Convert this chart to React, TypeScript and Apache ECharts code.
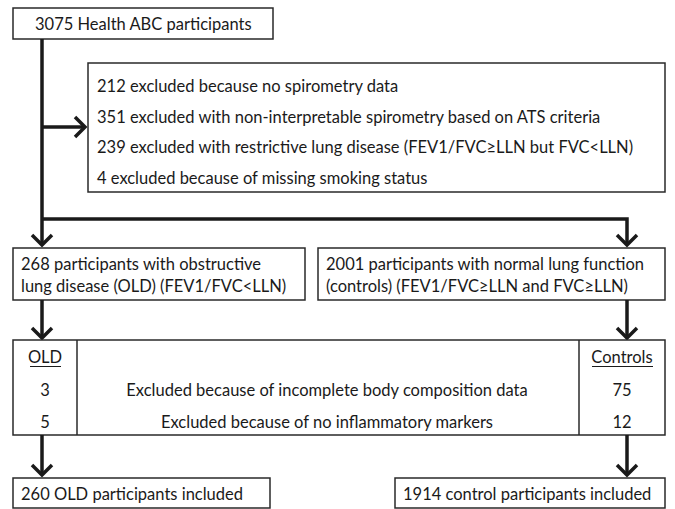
import React, { useEffect, useRef } from "react";
import * as echarts from "echarts";

const topText = "3075 Health ABC participants";
const exclusionLines = [
  "212 excluded because no spirometry data",
  "351 excluded with non-interpretable spirometry based on ATS criteria",
  "239 excluded with restrictive lung disease (FEV1/FVC\u2265LLN but FVC<LLN)",
  "4 excluded because of missing smoking status",
];
const oldGroupLines = ["268 participants with obstructive", "lung disease (OLD) (FEV1/FVC<LLN)"];
const controlGroupLines = ["2001 participants with normal lung function", "(controls) (FEV1/FVC\u2265LLN and FVC\u2265LLN)"];
const tableHeaders = ["OLD", "Controls"];
const tableReasons = [
  "Excluded because of incomplete body composition data",
  "Excluded because of no inflammatory markers",
];
const oldCounts = [3, 5];
const controlCounts = [75, 12];
const finalTexts = ["260 OLD participants included", "1914 control participants included"];

const FONT = "Lato";
const FS = 16.5;
const TXT = "#1a1a1a";
const BOX = "#2a2a2a";

function box(x: number, y: number, w: number, h: number) {
  return { type: "rect", shape: { x, y, width: w, height: h }, style: { fill: "#fff", stroke: BOX, lineWidth: 1.5 } };
}
function text(x: number, y: number, t: string, align = "left") {
  return {
    type: "text",
    x,
    y,
    style: { text: t, fill: TXT, font: `${FS}px ${FONT}`, align, verticalAlign: "middle" },
  };
}
function thick(points: number[][]) {
  return { type: "polyline", shape: { points }, style: { stroke: "#1a1a1a", lineWidth: 3.5, fill: null, lineJoin: "miter" } };
}
function arrowDown(x: number, y: number) {
  return thick([[x - 10, y - 10], [x, y], [x + 10, y - 10]]);
}
function arrowRight(x: number, y: number) {
  return thick([[x - 10, y - 10], [x, y], [x - 10, y + 10]]);
}

export default function App() {
  const ref = useRef<HTMLDivElement>(null);
  useEffect(() => {
    const chart = echarts.init(ref.current!, null, { renderer: "svg" });
    const g: any[] = [];
    const LX = 42;
    const RX = 627;
    // top box
    g.push(box(13, 8, 260, 31));
    g.push(text(35, 24, topText));
    // trunk
    g.push(thick([[LX, 39], [LX, 245]]));
    g.push(arrowDown(LX, 245));
    // branch to exclusions
    g.push(thick([[LX, 127], [85, 127]]));
    g.push(arrowRight(85, 127));
    // exclusion box
    g.push(box(88, 63, 577, 129));
    exclusionLines.forEach((t, i) => g.push(text(97, 86 + i * 30.7, t)));
    // horizontal to controls
    g.push(thick([[LX, 219], [RX, 219], [RX, 245]]));
    g.push(arrowDown(RX, 245));
    // group boxes
    g.push(box(13, 248, 292, 52));
    oldGroupLines.forEach((t, i) => g.push(text(21, 264 + i * 22, t)));
    g.push(box(318, 248, 347, 52));
    controlGroupLines.forEach((t, i) => g.push(text(326, 264 + i * 22, t)));
    // arrows to table
    g.push(thick([[LX, 300], [LX, 338]]));
    g.push(arrowDown(LX, 338));
    g.push(thick([[RX, 300], [RX, 338]]));
    g.push(arrowDown(RX, 338));
    // table
    g.push(box(13, 340, 652, 95));
    g.push({ type: "line", shape: { x1: 77, y1: 340, x2: 77, y2: 435 }, style: { stroke: BOX, lineWidth: 1.5 } });
    g.push({ type: "line", shape: { x1: 579, y1: 340, x2: 579, y2: 435 }, style: { stroke: BOX, lineWidth: 1.5 } });
    g.push(text(45, 357, tableHeaders[0], "center"));
    g.push({ type: "line", shape: { x1: 30, y1: 366.5, x2: 61, y2: 366.5 }, style: { stroke: TXT, lineWidth: 1 } });
    g.push(text(622, 357, tableHeaders[1], "center"));
    g.push({ type: "line", shape: { x1: 592, y1: 366.5, x2: 653, y2: 366.5 }, style: { stroke: TXT, lineWidth: 1 } });
    tableReasons.forEach((t, i) => {
      const y = 390 + i * 32;
      g.push(text(45, y, String(oldCounts[i]), "center"));
      g.push(text(327, y, t, "center"));
      g.push(text(622, y, String(controlCounts[i]), "center"));
    });
    // arrows to final
    g.push(thick([[LX, 435], [LX, 475]]));
    g.push(arrowDown(LX, 475));
    g.push(thick([[RX, 435], [RX, 475]]));
    g.push(arrowDown(RX, 475));
    // final boxes
    g.push(box(13, 478, 257, 30));
    g.push(text(21, 494, finalTexts[0]));
    g.push(box(395, 478, 270, 30));
    g.push(text(403, 494, finalTexts[1]));

    chart.setOption({ animation: false, backgroundColor: "#fff", graphic: { elements: g } });
    return () => chart.dispose();
  }, []);
  return <div ref={ref} style={{ position: "fixed", left: 0, top: 0, width: 675, height: 509 }} />;
}
